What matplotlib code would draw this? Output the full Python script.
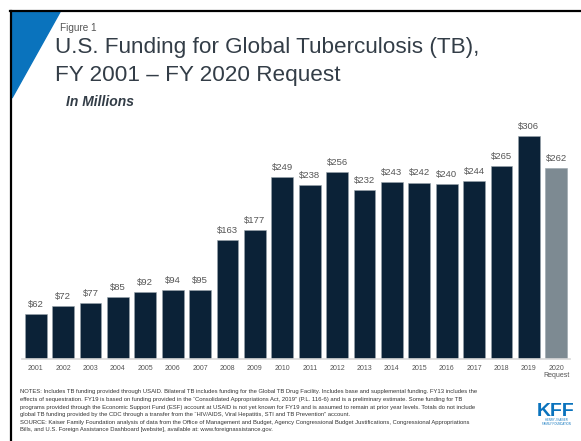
import matplotlib
matplotlib.use("Agg")
import matplotlib.pyplot as plt
from matplotlib.patches import Polygon
from matplotlib.lines import Line2D

plt.rcParams['font.family'] = ['Liberation Sans', 'DejaVu Sans']

# data
years = ["2001", "2002", "2003", "2004", "2005", "2006", "2007", "2008", "2009", "2010",
         "2011", "2012", "2013", "2014", "2015", "2016", "2017", "2018", "2019", "2020\nRequest"]
funding = [62, 72, 77, 85, 92, 94, 95, 163, 177, 249,
           238, 256, 232, 243, 242, 240, 244, 265, 306, 262]
is_request = [False] * 19 + [True]

navy = "#0b2237"
grey_bar = "#7d8a92"
text_grey = "#555555"
title_col = "#333d47"

W, H = 581, 441
fig = plt.figure(figsize=(W / 100, H / 100), dpi=100)

# frame lines (top and left) and blue corner triangle
fig.add_artist(Line2D([10 / W, 1.0], [1 - 11 / H, 1 - 11 / H], color="black", lw=1.6,
                      transform=fig.transFigure))
fig.add_artist(Line2D([11 / W, 11 / W], [0, 1 - 11 / H], color="black", lw=1.6,
                      transform=fig.transFigure))
fig.add_artist(Polygon([[12 / W, 1 - 12 / H], [60 / W, 1 - 12 / H], [12 / W, 1 - 98 / H]],
                       closed=True, color="#0a73bd", transform=fig.transFigure))

# titles
fig.text(60 / W, 1 - 28 / H, "Figure 1", fontsize=7.2, color=text_grey, va="center")
fig.text(55 / W, 1 - 47 / H, "U.S. Funding for Global Tuberculosis (TB),", fontsize=16.2,
         color=title_col, va="center")
fig.text(55 / W, 1 - 75 / H, "FY 2001 \u2013 FY 2020 Request", fontsize=16.2,
         color=title_col, va="center")
fig.text(66 / W, 1 - 102 / H, "In Millions", fontsize=10, color=title_col, va="center",
         fontweight="bold", fontstyle="italic")

# bar chart
ax = fig.add_axes([22 / W, 82 / H, 548 / W, 229 / H])
colors = [grey_bar if r else navy for r in is_request]
x = list(range(len(years)))
ax.bar(x, funding, width=0.8, color=colors, edgecolor="#9aa5ad", linewidth=0.4)
for xi, v in zip(x, funding):
    ax.text(xi, v + 7, "$" + str(v), ha="center", va="bottom", fontsize=6.8, color=text_grey)
ax.set_xlim(-0.5, len(years) - 0.5)
ax.set_ylim(0, 314)
ax.set_xticks(x)
ax.set_xticklabels(years, fontsize=5, color=text_grey, linespacing=1.1)
ax.tick_params(axis="x", length=0, pad=4)
ax.set_yticks([])
for s in ["top", "right", "left"]:
    ax.spines[s].set_visible(False)
ax.spines["bottom"].set_color("#d9d9d9")
ax.spines["bottom"].set_linewidth(1.2)

notes = [
    "NOTES: Includes TB funding provided through USAID. Bilateral TB includes funding for the Global TB Drug Facility. Includes base and supplemental funding. FY13 includes the",
    "effects of sequestration. FY19 is based on funding provided in the \u201cConsolidated Appropriations Act, 2019\u201d (P.L. 116-6) and is a preliminary estimate. Some funding for TB",
    "programs provided through the Economic Support Fund (ESF) account at USAID is not yet known for FY19 and is assumed to remain at prior year levels. Totals do not include",
    "global TB funding provided by the CDC through a transfer from the \u201cHIV/AIDS, Viral Hepatitis, STI and TB Prevention\u201d account.",
    "SOURCE: Kaiser Family Foundation analysis of data from the Office of Management and Budget, Agency Congressional Budget Justifications, Congressional Appropriations",
    "Bills, and U.S. Foreign Assistance Dashboard [website], available at: www.foreignassistance.gov.",
]
for i, line in enumerate(notes):
    fig.text(20 / W, 1 - (392 + i * 7.6) / H, line, fontsize=4.2, color="#333333", va="center")

# KFF logo
fig.text(556 / W, 1 - 411 / H, "KFF", fontsize=14, fontweight="bold", color="#0a73bd",
         ha="center", va="center")
fig.text(556 / W, 1 - 422 / H, "HENRY J KAISER\nFAMILY FOUNDATION", fontsize=2, color="#0a73bd",
         ha="center", va="center", linespacing=1.0)

fig.savefig("out.png", dpi=100)
